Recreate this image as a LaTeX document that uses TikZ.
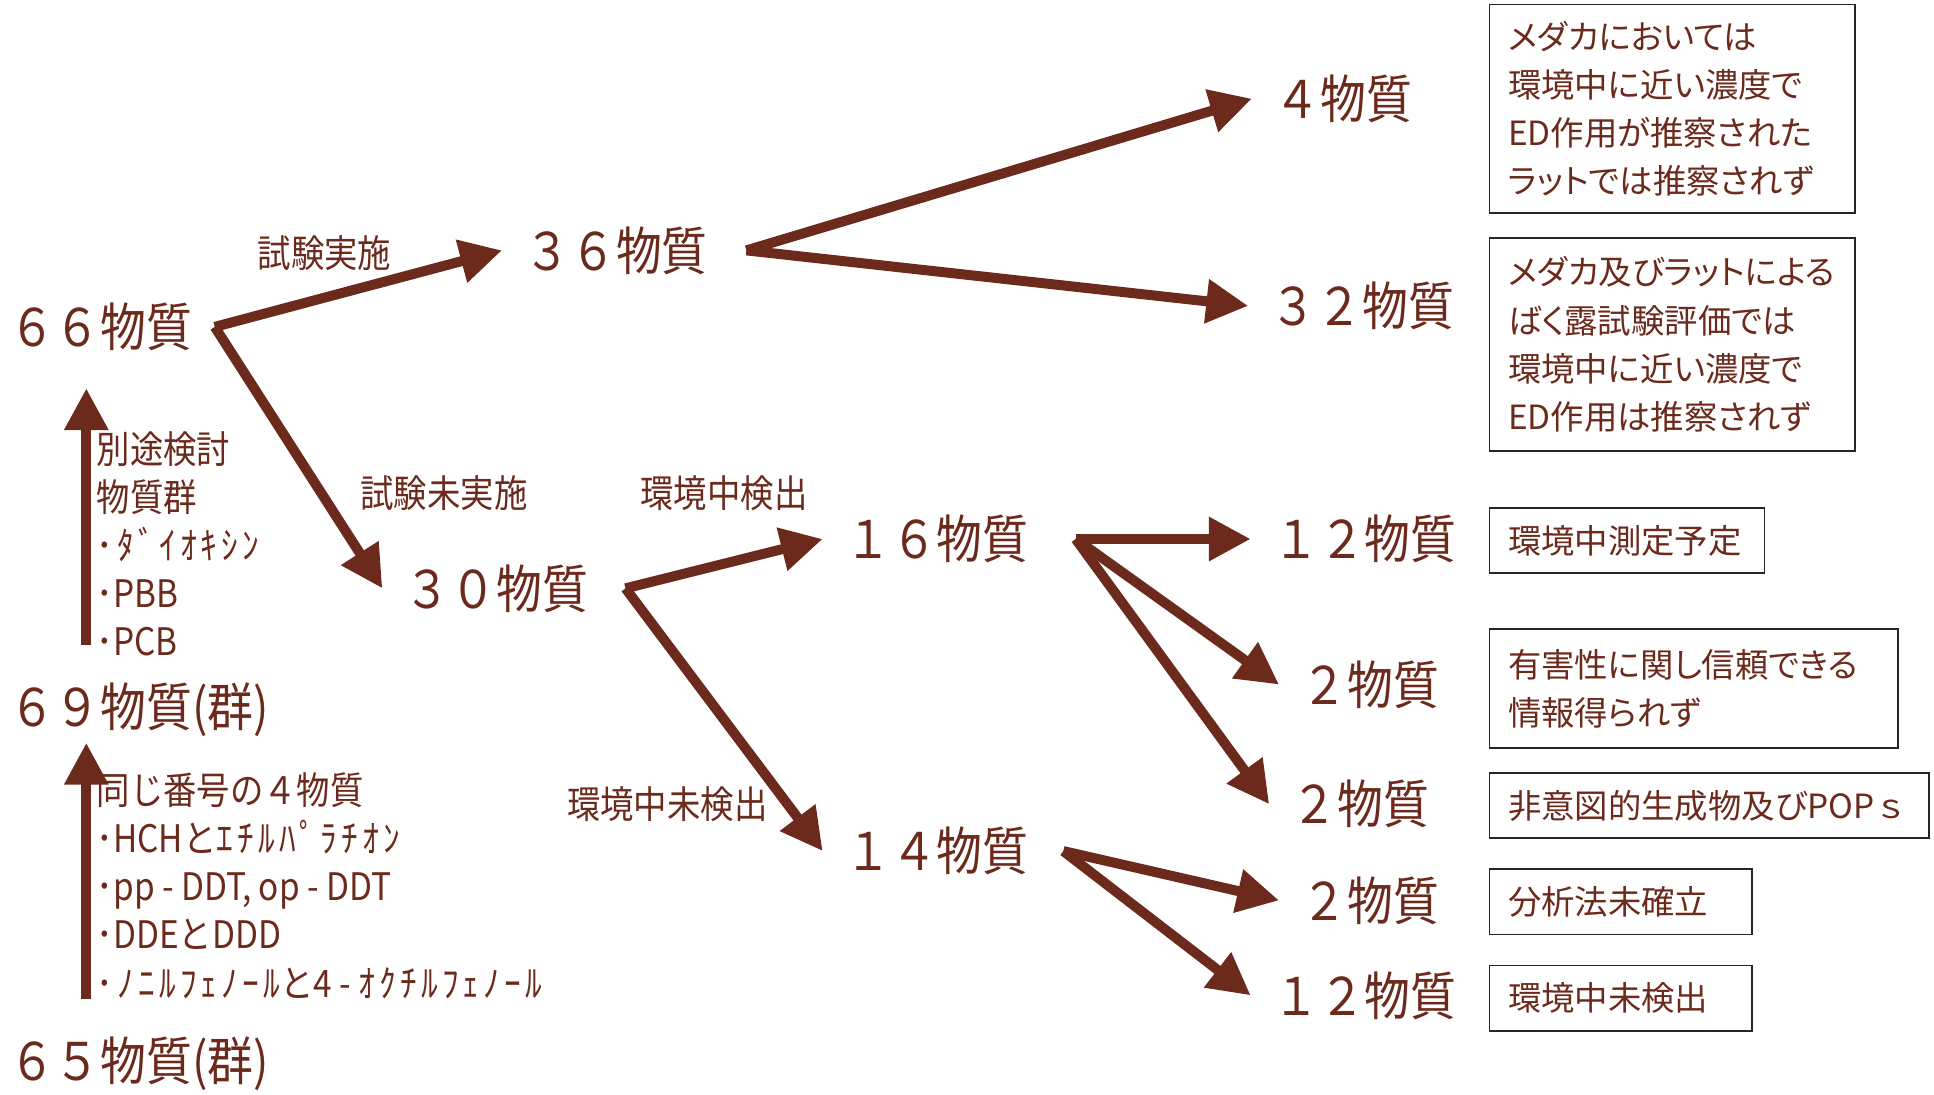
\documentclass[tikz,border=0pt]{standalone}
\usepackage{fontspec}
\setmainfont{Noto Sans CJK JP}
\newfontfamily\boxjp{Noto Sans CJK JP}[RawFeature=+palt]
\newfontfamily\tallj{Noto Sans CJK JP}[FakeStretch=0.88]
\newfontfamily\hankj{Noto Sans CJK JP}[FakeStretch=0.88, LetterSpace=11]
\newcommand\hk[1]{{\hankj #1}}
\usepackage{tikz}
\usetikzlibrary{arrows.meta}
\definecolor{kuri}{RGB}{107,42,27}
\tikzset{
  qty/.style = {text=kuri, anchor=west, inner xsep=0.36cm, inner ysep=0.6cm,
    font=\tallj\fontsize{24}{28}\selectfont},% 物質数
  lbl/.style = {text=kuri, inner sep=0pt,
    font=\tallj\fontsize{17.5}{22.2}\selectfont},% 枝のラベル
  lst/.style = {lbl, anchor=west, align=left},% 内訳
  note/.style = {draw=black!85, line width=0.8pt, anchor=north west,
    align=left, text=kuri, inner xsep=0.3cm,
    font=\boxjp\fontsize{15.4}{22.2}\selectfont},% 注記の枠
  arw/.style = {draw=kuri, line width=4.6pt,
    -{Triangle[length=0.68cm, width=0.68cm]}}
}

\begin{document}
\begin{tikzpicture}[x=0.02cm, y=-0.02cm]
\useasboundingbox (0,0) rectangle (1568,887);

% 物質数
\node[qty] (n66) at (-11,265) {６６物質};
\node[qty] (n69) at (-11,575) {６９物質(群)};
\node[qty] (n65) at (-11,862) {６５物質(群)};
\node[qty] (n36) at (407,203) {３６物質};
\node[qty] (n30) at (310,477) {３０物質};
\node[qty] (n4) at (1015,80) {４物質};
\node[qty] (n32) at (1012,248) {３２物質};
\node[qty] (n16) at (667,437) {１６物質};
\node[qty] (n14) at (667,690) {１４物質};
\node[qty] (n12a) at (1014,437) {１２物質};
\node[qty] (n2a) at (1037,555) {２物質};
\node[qty] (n2b) at (1029,652) {２物質};
\node[qty] (n2c) at (1037,730) {２物質};
\node[qty] (n12b) at (1014,807) {１２物質};

% 枝のラベル
\node[lbl] (t1) at (263,205) {試験実施};
\node[lbl] (t2) at (360,400) {試験未実施};
\node[lbl] (t3) at (587,400) {環境中検出};
\node[lbl] (t4) at (541,652) {環境中未検出};

\node[lst] (g1) at (78,441) {別途検討\\物質群\\\hk{･ﾀﾞｲｵｷｼﾝ}\\\hk{･}PBB\\\hk{･}PCB};
\node[lst] (g2) at (78,718) {同じ番号の４物質\\\hk{･}HCHと\hk{ｴﾁﾙﾊﾟﾗﾁｵﾝ}\\\hk{･}pp - DDT, op - DDT\\\hk{･}DDEとDDD\\\hk{･ﾉﾆﾙﾌｪﾉｰﾙ}と4 - \hk{ｵｸﾁﾙﾌｪﾉｰﾙ}};

% 注記
\node[note, minimum width=5.92cm, minimum height=3.38cm, text width=5.32cm] (b1) at (1207,3)
  {メダカにおいては\\環境中に近い濃度で\\ED作用が推察された\\ラットでは推察されず};
\node[note, minimum width=5.92cm, minimum height=3.46cm, text width=5.32cm] (b2) at (1207,192)
  {メダカ及びラットによる\\ばく露試験評価では\\環境中に近い濃度で\\ED作用は推察されず};
\node[note, minimum width=4.46cm, minimum height=1.06cm, text width=3.86cm] (b3) at (1207,411) {環境中測定予定};
\node[note, minimum width=6.62cm, minimum height=1.94cm, text width=6.02cm] (b4) at (1207,509)
  {有害性に関し信頼できる\\情報得られず};
\node[note, minimum width=7.12cm, minimum height=1.06cm, text width=6.52cm] (b5) at (1207,626) {非意図的生成物及びPOP{\normalfont ｓ}};
\node[note, minimum width=4.26cm, minimum height=1.06cm, text width=3.66cm] (b6) at (1207,704) {分析法未確立};
\node[note, minimum width=4.26cm, minimum height=1.06cm, text width=3.66cm] (b7) at (1207,782) {環境中未検出};

% 矢印
\draw[arw] ([xshift=1.62cm]n69.north west) -- ([xshift=1.62cm]n66.south west);
\draw[arw, shorten >=-0.5cm] ([xshift=1.62cm]n65.north west) -- ([xshift=1.62cm]n69.south west);
\draw[arw] (n66.east) -- (n36.west);
\draw[arw] (n66.east) -- (n30.west);
\draw[arw] ([xshift=0.26cm]n36.east) -- (n4.west);
\draw[arw] ([xshift=0.26cm]n36.east) -- (n32.west);
\draw[arw] ([xshift=0.24cm]n30.east) -- (n16.west);
\draw[arw] ([xshift=0.24cm]n30.east) -- (n14.west);
\draw[arw] ([xshift=0.4cm]n16.east) -- (n12a.west);
\draw[arw] ([xshift=0.4cm]n16.east) -- (n2a.west);
\draw[arw] ([xshift=0.4cm]n16.east) -- (n2b.west);
\draw[arw] ([xshift=0.2cm]n14.east) -- (n2c.west);
\draw[arw] ([xshift=0.2cm]n14.east) -- (n12b.west);
\end{tikzpicture}
\end{document}
